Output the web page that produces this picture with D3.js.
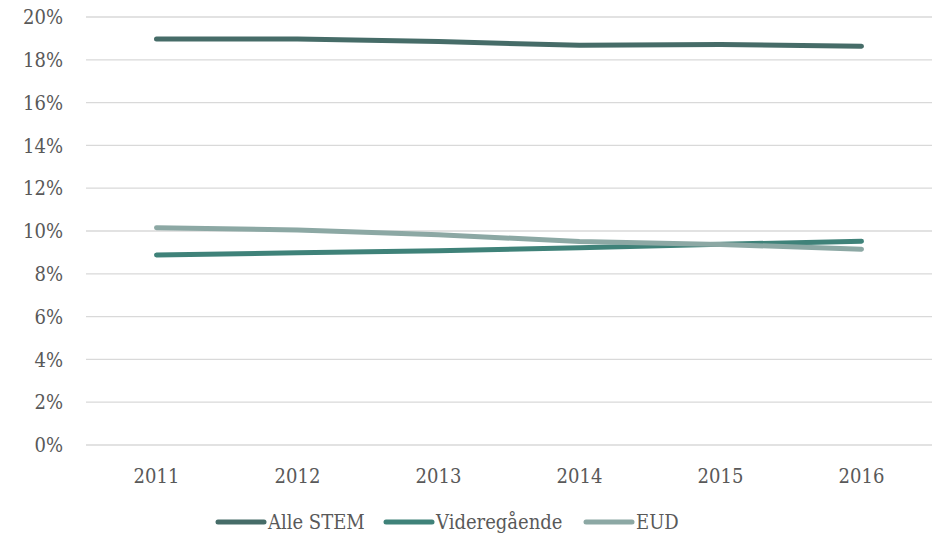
<!DOCTYPE html>
<html>
<head>
<meta charset="utf-8">
<script src="https://cdn.jsdelivr.net/npm/d3@7"></script>
<style>
  body { margin: 0; background: #fff; }
  svg text { font-family: "DejaVu Serif Condensed", "DejaVu Serif", serif; font-stretch: condensed; fill: #595959; }
</style>
</head>
<body>
<script>
const width = 936;
const height = 539;

const years = ["2011", "2012", "2013", "2014", "2015", "2016"];
const alleStem = [0.1897, 0.1897, 0.1885, 0.1868, 0.1872, 0.1863];
const videregaaende = [0.0888, 0.0898, 0.0908, 0.0922, 0.0938, 0.0952];
const eud = [0.1015, 0.1005, 0.0982, 0.0951, 0.0937, 0.0915];
const yTicks = [0, 0.02, 0.04, 0.06, 0.08, 0.10, 0.12, 0.14, 0.16, 0.18, 0.20];

const series = [
    {name: "Alle STEM", values: alleStem, color: "#466c68"},
    {name: "Videregående", values: videregaaende, color: "#3f8279"},
    {name: "EUD", values: eud, color: "#8ca8a4"}
];

const svg = d3.select("body").append("svg")
    .attr("width", width)
    .attr("height", height);

const x = d3.scaleBand().domain(years).range([86, 932]);
const y = d3.scaleLinear().domain([0, 0.2]).range([445, 17]);

// gridlines
svg.append("g")
    .selectAll("line")
    .data(yTicks)
    .enter().append("line")
    .attr("x1", 86).attr("x2", 932)
    .attr("y1", d => y(d)).attr("y2", d => y(d))
    .attr("stroke", "#d9d9d9")
    .attr("stroke-width", 1.3);

// y labels
svg.append("g")
    .selectAll("text")
    .data(yTicks)
    .enter().append("text")
    .attr("x", 63)
    .attr("y", d => y(d))
    .attr("dy", "0.36em")
    .attr("text-anchor", "end")
    .style("font-size", "20px")
    .text(d => d3.format(".0%")(d));

// x labels
svg.append("g")
    .selectAll("text")
    .data(years)
    .enter().append("text")
    .attr("x", d => x(d) + x.bandwidth() / 2)
    .attr("y", 483)
    .attr("text-anchor", "middle")
    .style("font-size", "20px")
    .text(d => d);

const line = d3.line()
    .x((d, i) => x(years[i]) + x.bandwidth() / 2)
    .y(d => y(d));

svg.append("g")
    .selectAll("path")
    .data(series)
    .enter().append("path")
    .attr("d", d => line(d.values))
    .attr("fill", "none")
    .attr("stroke", d => d.color)
    .attr("stroke-width", 5)
    .attr("stroke-linecap", "round")
    .attr("stroke-linejoin", "round");

// legend
const legendX = [218, 386, 586];
const legend = svg.append("g")
    .selectAll("g")
    .data(series)
    .enter().append("g")
    .attr("transform", (d, i) => `translate(${legendX[i]},522)`);

legend.append("line")
    .attr("x1", 0).attr("x2", 46)
    .attr("stroke", d => d.color)
    .attr("stroke-width", 5)
    .attr("stroke-linecap", "round");

legend.append("text")
    .attr("x", 50)
    .attr("dy", "0.36em")
    .style("font-size", "20px")
    .text(d => d.name);
</script>
</body>
</html>
